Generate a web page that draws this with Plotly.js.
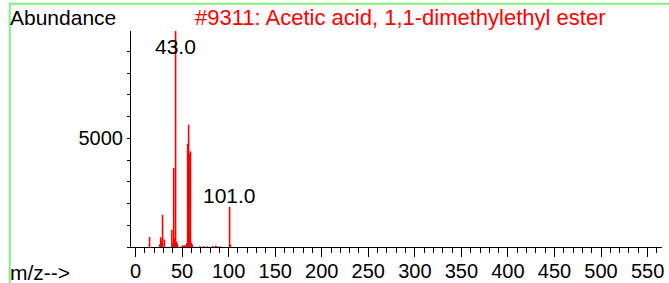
<!DOCTYPE html>
<html>
<head>
<meta charset="utf-8">
<script src="https://cdn.plot.ly/plotly-3.0.1.min.js"></script>
<style>html,body{margin:0;padding:0;background:#fff;}#chart{width:669px;height:283px;}</style>
</head>
<body>
<div id="chart"></div>
<script>
// Spectrum data (m/z vs abundance)
var mz        = [15, 26, 27, 28, 29, 31, 39, 40, 41, 42, 43, 44, 45, 50, 51, 53, 55, 56, 57, 58, 59, 60, 61, 69, 73, 77, 83, 86, 87, 91, 101, 102];
var abundance = [460, 120, 450, 300, 1480, 340, 780, 180, 3640, 420, 9999, 250, 150, 60, 80, 90, 180, 4750, 5630, 4300, 4400, 180, 120, 40, 40, 30, 50, 60, 40, 30, 1850, 110];
var labelledPeaks = [43, 101];
var xTickValues = [0, 50, 100, 150, 200, 250, 300, 350, 400, 450, 500, 550];
var yTickValues = [5000];
var titleText = "#9311: Acetic acid, 1,1-dimethylethyl ester";
var yLabel = "Abundance";
var xLabel = "m/z-->";

var FONT = "Liberation Sans, Arial, sans-serif";
var W = 669, H = 283;
var M = {l: 131, r: 7, t: 31, b: 36};
var PW = W - M.l - M.r, PH = H - M.t - M.b;
function px2paperX(px) { return (px - M.l) / PW; }
function px2paperY(py) { return (H - M.b - py) / PH; }

// Stick spectrum: one vertical segment per peak, from the baseline to its abundance
var stickX = [], stickY = [];
mz.forEach(function (m, i) {
  stickX.push(m, m, null);
  stickY.push(0, abundance[i], null);
});

var annotations = [];
labelledPeaks.forEach(function (m) {
  var v = abundance[mz.indexOf(m)];
  annotations.push({
    x: m, y: Math.min(v, 8700), xref: 'x', yref: 'y',
    text: m.toFixed(1), showarrow: false, xanchor: 'center', yanchor: 'bottom',
    yshift: -2, font: {family: FONT, size: 21, color: '#000'}
  });
});
annotations.push({
  x: px2paperX(7.5), y: px2paperY(17.7), xref: 'paper', yref: 'paper',
  text: yLabel, showarrow: false, xanchor: 'left', yanchor: 'middle',
  font: {family: FONT, size: 21, color: '#000'}
});
annotations.push({
  x: px2paperX(8), y: px2paperY(272.7), xref: 'paper', yref: 'paper',
  text: xLabel, showarrow: false, xanchor: 'left', yanchor: 'middle',
  font: {family: FONT, size: 21, color: '#000'}
});

var trace = {
  type: 'scatter', mode: 'lines', x: stickX, y: stickY,
  connectgaps: false,
  line: {color: '#FF0000', width: 1.6},
  hoverinfo: 'x+y'
};

var layout = {
  width: W, height: H,
  margin: M,
  paper_bgcolor: '#fff', plot_bgcolor: '#fff',
  showlegend: false,
  title: {
    text: titleText, x: 195 / W, xref: 'container', xanchor: 'left',
    y: 1 - 17.7 / H, yref: 'container', yanchor: 'middle',
    font: {family: FONT, size: 22, color: '#FF0000'}
  },
  xaxis: {
    range: [-4.9, 565.5], showline: true, linecolor: '#000', linewidth: 1,
    ticks: 'outside', ticklen: 9, tickwidth: 1, tickcolor: '#000',
    ticklabelstandoff: -3,
    tickmode: 'array', tickvals: xTickValues, ticktext: xTickValues.map(String),
    tickfont: {family: FONT, size: 20, color: '#000'},
    showgrid: false, zeroline: false, fixedrange: true,
    minor: {dtick: 10, tick0: 0, ticks: 'outside', ticklen: 5, tickwidth: 1, tickcolor: '#000', showgrid: false}
  },
  yaxis: {
    range: [0, 9936], showline: true, linecolor: '#000', linewidth: 1,
    ticks: 'outside', ticklen: 3, tickwidth: 1, tickcolor: '#000',
    tickmode: 'array', tickvals: yTickValues, ticktext: yTickValues.map(String),
    tickfont: {family: FONT, size: 20, color: '#000'},
    showgrid: false, zeroline: false, fixedrange: true,
    minor: {dtick: 1000, tick0: 0, ticks: 'outside', ticklen: 3, tickwidth: 1, tickcolor: '#000', showgrid: false}
  },
  annotations: annotations,
  shapes: [{
    type: 'rect', xref: 'paper', yref: 'paper', layer: 'below',
    x0: px2paperX(9.7), x1: px2paperX(W + 200),
    y0: px2paperY(3.8), y1: px2paperY(H + 200),
    line: {color: '#80F080', width: 2}, fillcolor: 'rgba(0,0,0,0)'
  }]
};

Plotly.newPlot('chart', [trace], layout, {displayModeBar: false, staticPlot: true});
</script>
</body>
</html>
